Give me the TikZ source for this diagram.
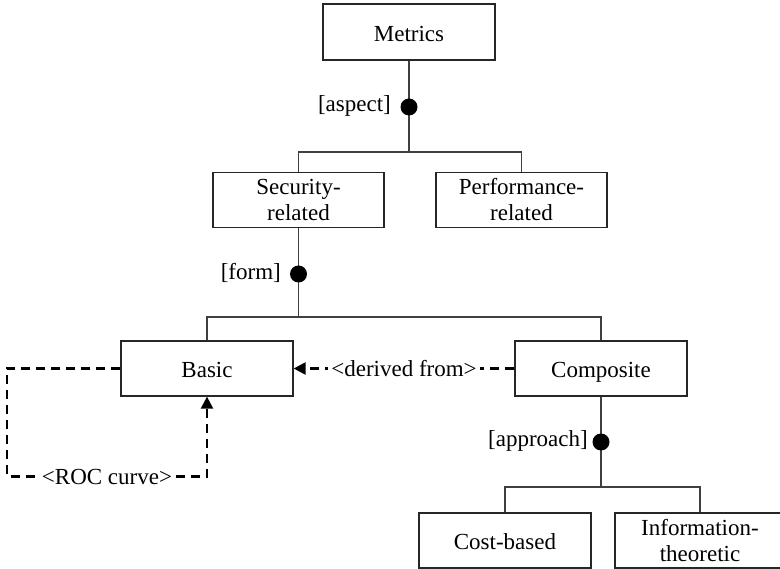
\documentclass[tikz,border=0pt]{standalone}
\usepackage{fontspec}
\setmainfont{Liberation Serif}
\usetikzlibrary{arrows.meta}
\begin{document}
\begin{tikzpicture}[x=1pt,y=-1pt,
  every node/.style={font=\fontsize{23}{26}\selectfont},
  box/.style={draw=black!85, line width=1.3pt, rectangle, inner sep=0pt,
    minimum height=55pt, text height=19pt, text depth=0pt},
  twoline/.style={draw=black!85, line width=1.3pt, rectangle, inner sep=0pt,
    minimum height=55pt, align=center},
  tree/.style={draw=black!75, line width=1.3pt},
  dot/.style={circle, fill=black, inner sep=0pt, minimum size=17pt},
  tag/.style={anchor=east, inner sep=0pt},
  relation/.style={draw=black, line width=2.3pt, dash pattern=on 9pt off 6pt,
    -{Triangle[length=12pt,width=12pt]}},
  rellabel/.style={fill=white, inner sep=3pt}]
\useasboundingbox (0,0) rectangle (780,569);

% feature boxes
\node[box, minimum width=172pt, minimum height=56pt] (metrics) at (409,32) {Metrics};
\node[twoline, minimum width=171pt] (security) at (298.5,200) {Security-\\related};
\node[twoline, minimum width=171pt] (perf) at (521.5,200) {Performance-\\related};
\node[box, minimum width=172pt] (basic) at (207,368.5) {Basic};
\node[box, minimum width=172pt] (composite) at (601,368.5) {Composite};
\node[box, minimum width=172pt] (cost) at (505,540.5) {Cost-based};
\node[twoline, minimum width=170pt] (info) at (700,540.5) {Information-\\theoretic};

% branching points of the trees
\coordinate (b1) at (409,152);
\coordinate (b2) at (298.5,317);
\coordinate (b3) at (601,487);

% aspect
\draw[tree] (metrics.south) -- (b1);
\draw[tree] (security.north) |- (b1) -| (perf.north);
\node[dot] (d1) at (409,107) {};
\node[tag] (t1) at (391,106) {[aspect]};

% form
\draw[tree] (security.south) -- (b2);
\draw[tree] (basic.north) |- (b2) -| (composite.north);
\node[dot] (d2) at (298.5,274) {};
\node[tag] (t2) at (281,273) {[form]};

% approach
\draw[tree] (composite.south) -- (b3);
\draw[tree] (cost.north) |- (b3) -| (info.north);
\node[dot] (d3) at (601,442) {};
\node[tag] (t3) at (588,441) {[approach]};

% relations
\draw[relation] (composite.west) -- node[rellabel] {<derived from>} (basic.east);
\coordinate (rl) at (7,476.5);
\coordinate (rr) at (207,476.5);
\draw[relation] (basic.west) -| (rl) -- node[rellabel] {<ROC curve>} (rr) -- (basic.south);
\end{tikzpicture}
\end{document}
